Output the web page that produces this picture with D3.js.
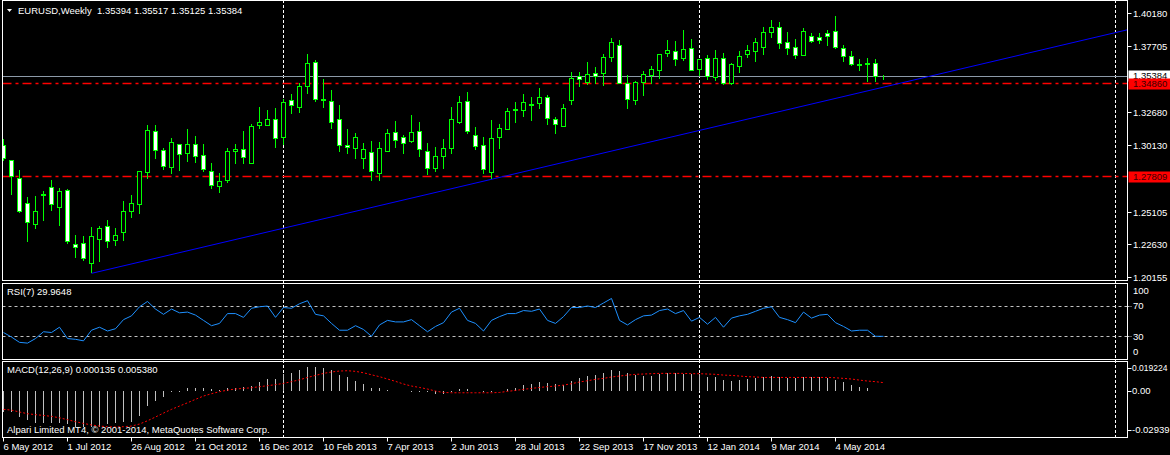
<!DOCTYPE html>
<html>
<head>
<meta charset="utf-8">
<script src="https://cdn.jsdelivr.net/npm/d3@7"></script>
<style>
body { margin: 0; background: #000; }
text { font-family: "Liberation Sans", Arial, sans-serif; font-size: 9.5px; fill: #fff; white-space: pre; }
</style>
</head>
<body>
<div id="chart"></div>
<script>
// weekly EURUSD bars, first bar = week of 6 May 2012
var firstWeek = "2012-05-06";

var openP = [1.3017,1.2900,1.2764,1.2574,1.2414,1.2631,1.2695,1.2543,1.2672,1.2264,
  1.2269,1.2117,1.2300,1.2399,1.2292,1.2353,1.2510,1.2566,1.2809,1.3121,
  1.2976,1.2844,1.3022,1.2951,1.3022,1.2938,1.2817,1.2707,1.2745,1.2966,
  1.2984,1.2882,1.3164,1.3169,1.3212,1.3072,1.3357,1.3308,1.3460,1.3645,
  1.3363,1.3349,1.3212,1.3014,1.2989,1.2913,1.2961,1.2799,1.2969,1.3113,
  1.3075,1.3042,1.3121,1.2969,1.2840,1.2931,1.2992,1.3189,1.3349,1.3091,
  1.3014,1.2809,1.3075,1.3136,1.3280,1.3280,1.3316,1.3334,1.3379,1.3212,
  1.3156,1.3357,1.3544,1.3493,1.3562,1.3562,1.3684,1.3775,1.3486,1.3354,
  1.3490,1.3544,1.3582,1.3714,1.3729,1.3676,1.3752,1.3592,1.3676,1.3534,
  1.3676,1.3483,1.3615,1.3706,1.3729,1.3760,1.3873,1.3912,1.3797,1.3760,
  1.3699,1.3843,1.3836,1.3866,1.3881,1.3752,1.3691,1.3630,1.3638,1.3638,
  1.35394];
var highP = [1.3060,1.2900,1.2827,1.2619,1.2627,1.2667,1.2751,1.2690,1.2680,1.2333,
  1.2325,1.2393,1.2401,1.2447,1.2383,1.2591,1.2637,1.2817,1.3169,1.3169,
  1.2994,1.3070,1.3022,1.3138,1.3085,1.3022,1.2880,1.2804,1.2992,1.3024,
  1.3123,1.3176,1.3306,1.3283,1.3298,1.3364,1.3405,1.3486,1.3709,1.3663,
  1.3519,1.3435,1.3321,1.3138,1.3108,1.3032,1.3045,1.3037,1.3138,1.3199,
  1.3091,1.3245,1.3192,1.3032,1.3002,1.3062,1.3306,1.3389,1.3420,1.3151,
  1.3078,1.3207,1.3176,1.3296,1.3344,1.3405,1.3379,1.3448,1.3397,1.3227,
  1.3328,1.3569,1.3569,1.3645,1.3610,1.3706,1.3830,1.3813,1.3547,1.3501,
  1.3577,1.3617,1.3706,1.3813,1.3805,1.3891,1.3823,1.3668,1.3699,1.3737,
  1.3714,1.3638,1.3729,1.3775,1.3828,1.3914,1.3967,1.3952,1.3876,1.3820,
  1.3904,1.3866,1.3866,1.3889,1.3998,1.3775,1.3729,1.3668,1.3676,1.3668,
  1.35517];
var lowP = [1.2897,1.2637,1.2498,1.2282,1.2378,1.2441,1.2515,1.2403,1.2262,1.2160,
  1.2137,1.2041,1.2130,1.2236,1.2251,1.2289,1.2464,1.2492,1.2756,1.2913,
  1.2829,1.2796,1.2821,1.2888,1.2882,1.2812,1.2685,1.2654,1.2730,1.2872,
  1.2872,1.2882,1.3141,1.3161,1.2996,1.3017,1.3252,1.3262,1.3407,1.3346,
  1.3298,1.3141,1.2966,1.2948,1.2908,1.2837,1.2745,1.2745,1.2963,1.2996,
  1.2951,1.3030,1.2928,1.2786,1.2814,1.2837,1.2951,1.3174,1.3098,1.2981,
  1.2794,1.2756,1.2989,1.3136,1.3186,1.3232,1.3202,1.3293,1.3171,1.3103,
  1.3156,1.3323,1.3460,1.3473,1.3483,1.3468,1.3650,1.3478,1.3293,1.3321,
  1.3392,1.3483,1.3521,1.3688,1.3620,1.3653,1.3579,1.3541,1.3509,1.3506,
  1.3475,1.3473,1.3562,1.3676,1.3645,1.3703,1.3832,1.3744,1.3701,1.3668,
  1.3699,1.3790,1.3782,1.3769,1.3744,1.3645,1.3615,1.3582,1.3498,1.3498,
  1.35125];
var closeP = [1.2916,1.2779,1.2510,1.2429,1.2513,1.2642,1.2566,1.2665,1.2285,1.2244,
  1.2152,1.2323,1.2383,1.2285,1.2330,1.2513,1.2574,1.2817,1.3128,1.2976,
  1.2855,1.3037,1.2946,1.3022,1.2931,1.2829,1.2710,1.2743,1.2969,1.2984,
  1.2923,1.3161,1.3189,1.3212,1.3065,1.3341,1.3316,1.3465,1.3638,1.3361,
  1.3355,1.3189,1.3014,1.2999,1.3075,1.2984,1.2817,1.2992,1.3106,1.3052,
  1.3030,1.3113,1.2984,1.2840,1.2931,1.2992,1.3212,1.3341,1.3121,1.3007,
  1.2832,1.3068,1.3144,1.3273,1.3288,1.3341,1.3326,1.3379,1.3220,1.3174,
  1.3296,1.3524,1.3524,1.3554,1.3541,1.3684,1.3797,1.3483,1.3361,1.3493,
  1.3554,1.3592,1.3706,1.3737,1.3668,1.3744,1.3585,1.3668,1.3539,1.3676,
  1.3483,1.3630,1.3691,1.3737,1.3797,1.3873,1.3912,1.3790,1.3752,1.3699,
  1.3881,1.3805,1.3813,1.3843,1.3757,1.3691,1.3630,1.3620,1.3630,1.3539,
  1.35384];

var rsiVals = [35,29,22,21,27,36,35,42,27,26,24,38,42,37,40,52,57,69,76,66,
  59,66,61,62,58,51,44,47,60,60,55,67,69,70,55,68,67,73,77,59,
  57,47,38,38,44,39,30,45,51,49,49,52,44,36,43,48,62,67,51,47,
  37,51,56,60,60,64,63,66,51,47,56,68,68,70,68,74,80,51,45,52,
  57,58,64,66,60,64,50,55,46,55,42,54,57,59,63,67,69,55,52,48,
  62,54,58,59,48,43,37,38,38,30,29.9648];

var macdMain = [-0.0132,-0.0132,-0.0164,-0.0186,-0.0207,-0.0207,-0.0207,-0.0207,-0.0211,-0.0228,
  -0.0228,-0.0228,-0.0228,-0.0211,-0.0207,-0.0196,-0.0196,-0.0160,-0.0096,-0.0062,
  -0.0041,-0.0009,-0.0004,0.0017,0.0021,0.0017,0.0013,0.0006,0.0017,0.0021,
  0.0028,0.0032,0.0058,0.0075,0.0079,0.0107,0.0113,0.0134,0.0151,0.0151,
  0.0147,0.0134,0.0102,0.0087,0.0066,0.0045,0.0017,0.0017,0.0006,0.0000,
  -0.0002,-0.0006,-0.0009,-0.0009,-0.0019,-0.0021,-0.0009,0.0013,0.0013,0.0000,
  -0.0006,-0.0004,-0.0002,0.0011,0.0021,0.0038,0.0045,0.0060,0.0053,0.0045,
  0.0038,0.0066,0.0081,0.0098,0.0102,0.0117,0.0134,0.0130,0.0113,0.0102,
  0.0098,0.0098,0.0107,0.0113,0.0113,0.0109,0.0109,0.0109,0.0092,0.0092,
  0.0070,0.0066,0.0070,0.0077,0.0081,0.0092,0.0096,0.0092,0.0081,0.0081,
  0.0092,0.0087,0.0087,0.0085,0.0070,0.0060,0.0038,0.0028,0.0021,0.0002,
  0.000135];
var macdSignal = [-0.0117,-0.0122,-0.0134,-0.0145,-0.0151,-0.0156,-0.0162,-0.0171,-0.0183,-0.0196,
  -0.0207,-0.0217,-0.0224,-0.0228,-0.0230,-0.0228,-0.0224,-0.0211,-0.0190,-0.0166,
  -0.0141,-0.0117,-0.0096,-0.0075,-0.0053,-0.0032,-0.0017,-0.0004,0.0006,0.0013,
  0.0017,0.0021,0.0028,0.0034,0.0041,0.0049,0.0060,0.0072,0.0087,0.0100,
  0.0113,0.0122,0.0128,0.0130,0.0126,0.0117,0.0104,0.0092,0.0077,0.0062,
  0.0045,0.0032,0.0023,0.0013,0.0000,-0.0009,-0.0011,-0.0011,-0.0011,-0.0011,
  -0.0011,-0.0011,-0.0009,-0.0002,0.0004,0.0011,0.0017,0.0023,0.0028,0.0032,
  0.0038,0.0047,0.0058,0.0066,0.0075,0.0081,0.0090,0.0096,0.0102,0.0107,
  0.0109,0.0111,0.0113,0.0113,0.0113,0.0113,0.0111,0.0111,0.0109,0.0107,
  0.0102,0.0100,0.0096,0.0092,0.0090,0.0087,0.0087,0.0087,0.0087,0.0087,
  0.0087,0.0087,0.0087,0.0087,0.0085,0.0081,0.0077,0.0070,0.0064,0.0060,
  0.00538];

// axis labels
var priceTicks = ["1.40180","1.37705","1.32680","1.30130","1.25105","1.22630","1.20155"];
var dateTicks = ["6 May 2012","1 Jul 2012","26 Aug 2012","21 Oct 2012","16 Dec 2012","10 Feb 2013",
  "7 Apr 2013","2 Jun 2013","28 Jul 2013","22 Sep 2013","17 Nov 2013","12 Jan 2014","9 Mar 2014","4 May 2014"];
var separators = ["6 Jan 2013","5 Jan 2014","4 Jan 2015"];
var rsiLevels = [70, 30];
var macdTicks = ["0.019224","0.00","-0.02939"];

// objects drawn on the chart
var bidPrice = 1.35384;
var redLevels = [1.34860, 1.27809];
var trendAnchors = [{week: 11, price: 1.2041}, {week: 61, price: 1.2756}];

var W = 1170, H = 455;
var left = 2.5, right = 1127.5;
var main = {top: 0.5, bottom: 280.5},
    rsiP = {top: 283.5, bottom: 359.5},
    macdP = {top: 361.5, bottom: 437.5};

var svg = d3.select("#chart").append("svg")
  .attr("width", W).attr("height", H)
  .style("background", "#000");

var parseD = d3.utcParse("%e %b %Y");
var t0 = d3.utcParse("%Y-%m-%d")(firstWeek);
var x = d3.scaleUtc()
  .domain([t0, d3.utcWeek.offset(t0, 1)])
  .range([3.3, 11.3]);
function bx(i) { return Math.round(x(d3.utcWeek.offset(t0, i))) + 0.5; }

var y = d3.scaleLinear().domain([1.20155, 1.40180]).range([276.7, 13.3]);
var yR = d3.scaleLinear().domain([0, 100]).range([359, 283.3]);
var yM = d3.scaleLinear().domain([-0.02939, 0.019224]).range([437, 361]);
function snap(v) { return Math.round(v) + 0.5; }

// clip paths for each panel
var defs = svg.append("defs");
[["clipMain", main], ["clipRsi", rsiP], ["clipMacd", macdP]].forEach(function(c) {
  defs.append("clipPath").attr("id", c[0]).append("rect")
    .attr("x", left + 0.5).attr("y", c[1].top + 0.5)
    .attr("width", right - left - 1).attr("height", c[1].bottom - c[1].top - 1);
});

// period separators
separators.forEach(function(s) {
  var sx = Math.round(x(parseD(s))) + 0.5;
  if (sx > right) sx = Math.round(x(parseD(s))) - 0.5;
  svg.append("line")
    .attr("x1", sx).attr("x2", sx).attr("y1", 0).attr("y2", macdP.bottom)
    .attr("stroke", "#fff").attr("stroke-dasharray", "3,2");
});

// ===== main price panel =====
var gMain = svg.append("g").attr("clip-path", "url(#clipMain)");

redLevels.forEach(function(p) {
  gMain.append("line")
    .attr("x1", left).attr("x2", right)
    .attr("y1", snap(y(p))).attr("y2", snap(y(p)))
    .attr("stroke", "#ff0000").attr("stroke-width", 1.3)
    .attr("stroke-dasharray", "9,4,3,4");
});

gMain.append("line")
  .attr("x1", left).attr("x2", right)
  .attr("y1", snap(y(bidPrice))).attr("y2", snap(y(bidPrice)))
  .attr("stroke", "#8c9aa8");

// trend line, extended to the right edge
var ta = {x: bx(trendAnchors[0].week), y: y(trendAnchors[0].price)},
    tb = {x: bx(trendAnchors[1].week), y: y(trendAnchors[1].price)};
var slope = (tb.y - ta.y) / (tb.x - ta.x);
gMain.append("line")
  .attr("x1", ta.x).attr("y1", ta.y)
  .attr("x2", right).attr("y2", ta.y + slope * (right - ta.x))
  .attr("stroke", "#0000ff").attr("stroke-width", 1);

var candles = gMain.selectAll(".candle")
  .data(d3.range(openP.length))
  .enter().append("g")
  .attr("class", "candle");

candles.append("line")
  .attr("x1", function(i) { return bx(i); })
  .attr("x2", function(i) { return bx(i); })
  .attr("y1", function(i) { return Math.round(y(highP[i])); })
  .attr("y2", function(i) { return Math.round(y(lowP[i])); })
  .attr("stroke", "#00ff00");

candles.append("rect")
  .attr("x", function(i) { return bx(i) - 2; })
  .attr("y", function(i) { return snap(y(Math.max(openP[i], closeP[i]))); })
  .attr("width", 4)
  .attr("height", function(i) {
    return Math.max(Math.round(Math.abs(y(openP[i]) - y(closeP[i]))), 0);
  })
  .attr("fill", function(i) { return closeP[i] < openP[i] ? "#fff" : "#000"; })
  .attr("stroke", "#00ff00");

// price axis
var yAxis = svg.append("g");
priceTicks.forEach(function(t) {
  var py = snap(y(+t));
  yAxis.append("line").attr("x1", right).attr("x2", right + 4)
    .attr("y1", py).attr("y2", py).attr("stroke", "#fff");
  yAxis.append("text").attr("x", 1133).attr("y", py).attr("dy", "0.35em").text(t);
});

// bid label (partly covered by the red level label, as in the terminal)
var byy = snap(y(bidPrice));
svg.append("rect").attr("x", right + 1).attr("y", byy - 6).attr("width", 43).attr("height", 11)
  .attr("fill", "#fff");
svg.append("text").attr("x", 1133).attr("y", byy - 1).attr("dy", "0.35em")
  .style("fill", "#000").text(d3.format(".5f")(bidPrice));

redLevels.forEach(function(p) {
  var ry = snap(y(p));
  svg.append("rect").attr("x", right + 1).attr("y", ry - 5).attr("width", 43).attr("height", 11)
    .attr("fill", "#ff0000");
  svg.append("text").attr("x", 1133).attr("y", ry + 0.5).attr("dy", "0.35em")
    .style("fill", "#3a0000").text(d3.format(".5f")(p));
});

// title
svg.append("path").attr("d", "M7,9 L12,9 L9.5,12 Z").attr("fill", "#fff");
svg.append("text").attr("x", 18).attr("y", 11).attr("dy", "0.35em")
  .text("EURUSD,Weekly  " + [openP[110], highP[110], lowP[110], closeP[110]].map(d3.format(".5f")).join(" "));

// ===== RSI panel =====
var gRsi = svg.append("g").attr("clip-path", "url(#clipRsi)");
rsiLevels.forEach(function(l) {
  gRsi.append("line").attr("x1", left).attr("x2", right + 4)
    .attr("y1", snap(yR(l))).attr("y2", snap(yR(l)))
    .attr("stroke", "#c0c0c0").attr("stroke-dasharray", "3,3");
});
gRsi.append("path")
  .datum(rsiVals)
  .attr("fill", "none").attr("stroke", "#1e90ff").attr("stroke-width", 1)
  .attr("d", d3.line().x(function(d, i) { return bx(i); }).y(function(d) { return yR(d); }));

svg.append("text").attr("x", 7).attr("y", 292).attr("dy", "0.35em")
  .text("RSI(7) " + d3.format(".4f")(rsiVals[rsiVals.length - 1]));

[100, 70, 30, 0].forEach(function(l) {
  var ly = yR(l);
  if (l === 100) ly += 7;
  if (l === 0) ly -= 7;
  if (l === 70 || l === 30) {
    svg.append("line").attr("x1", right).attr("x2", right + 4)
      .attr("y1", snap(yR(l))).attr("y2", snap(yR(l)))
      .attr("stroke", "#c0c0c0").attr("stroke-dasharray", "2,1");
  }
  svg.append("text").attr("x", 1133).attr("y", ly).attr("dy", "0.35em").text(l);
});

// ===== MACD panel =====
var gMacd = svg.append("g").attr("clip-path", "url(#clipMacd)");
gMacd.selectAll(".hist")
  .data(macdMain)
  .enter().append("line")
  .attr("class", "hist")
  .attr("x1", function(d, i) { return bx(i); })
  .attr("x2", function(d, i) { return bx(i); })
  .attr("y1", Math.round(yM(0)))
  .attr("y2", function(d) { return Math.round(yM(d)); })
  .attr("stroke", "#c0c0c0");

gMacd.append("path")
  .datum(macdSignal)
  .attr("fill", "none").attr("stroke", "#ff0000").attr("stroke-width", 1)
  .attr("stroke-dasharray", "2,2")
  .attr("d", d3.line().x(function(d, i) { return bx(i); }).y(function(d) { return yM(d); }));

svg.append("text").attr("x", 7).attr("y", 370).attr("dy", "0.35em")
  .text("MACD(12,26,9) " + d3.format(".6f")(macdMain[macdMain.length - 1]) + " " +
        d3.format(".6f")(macdSignal[macdSignal.length - 1]));
svg.append("text").attr("x", 7).attr("y", 430).attr("dy", "0.35em")
  .text("Alpari Limited MT4, \u00a9 2001-2014, MetaQuotes Software Corp.");

macdTicks.forEach(function(t, k) {
  var ty = k === 0 ? yM(+t) + 7 : (k === 2 ? yM(+t) - 7 : yM(+t));
  svg.append("line").attr("x1", right).attr("x2", right + 4)
    .attr("y1", snap(ty)).attr("y2", snap(ty)).attr("stroke", "#fff");
  svg.append("text").attr("x", 1132).attr("y", ty).attr("dy", "0.35em")
    .style("font-size", k === 0 ? "8.5px" : null).text(t);
});

// panel frames
[main, rsiP, macdP].forEach(function(p) {
  svg.append("rect")
    .attr("x", left).attr("y", p.top)
    .attr("width", right - left).attr("height", p.bottom - p.top)
    .attr("fill", "none").attr("stroke", "#fff");
});

// time axis
dateTicks.forEach(function(t) {
  var tx = Math.round(x(parseD(t))) + 0.5;
  svg.append("line").attr("x1", tx).attr("x2", tx)
    .attr("y1", macdP.bottom).attr("y2", macdP.bottom + 4).attr("stroke", "#fff");
  svg.append("text").attr("x", tx).attr("y", 447).attr("dy", "0.35em").text(t);
});
</script>
</body>
</html>
